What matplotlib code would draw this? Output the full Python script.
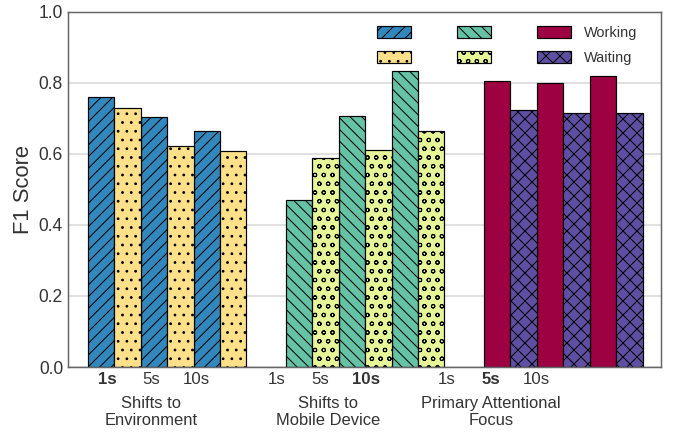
import matplotlib
matplotlib.use('Agg')
import matplotlib.pyplot as plt
from matplotlib.patches import Patch

# chart values
windows = ['1s', '5s', '10s']
groups = ['Shifts to\nEnvironment', 'Shifts to\nMobile Device', 'Primary Attentional\nFocus']
best_window = ['1s', '10s', '5s']  # drawn in bold

env_a = [0.761, 0.704, 0.665]
env_b = [0.730, 0.623, 0.608]
mob_a = [0.471, 0.707, 0.835]
mob_b = [0.589, 0.611, 0.664]
working = [0.806, 0.801, 0.819]
waiting = [0.724, 0.715, 0.715]

series = [(env_a, env_b), (mob_a, mob_b), (working, waiting)]
colors = [('#3288bd', '#fee08b'), ('#66c2a5', '#e6f598'), ('#9e0142', '#5e4fa2')]
hatches = [('//////', '....'), ('\\\\\\\\\\\\', 'oooo'), ('', 'xxxxx')]
legend_labels = ['', '', '', '', 'Working', 'Waiting']

W, H, DPI = 673, 437, 210


def px(v):
    # pixel size -> points at this dpi
    return v * 72 / DPI


plt.rcParams['font.family'] = ['Liberation Sans', 'DejaVu Sans']
plt.rcParams['hatch.linewidth'] = px(1.0)
TEXT = '#333333'

fig = plt.figure(figsize=(W / DPI, H / DPI), dpi=DPI)
ax = fig.add_axes([68 / W, 1 - 367 / H, (661 - 68) / W, (367 - 12) / H])

group_gap = 7.5
for g, (a, b) in enumerate(series):
    base = g * group_gap
    xa = [base + 2 * i + 0.5 for i in range(len(windows))]
    xb = [base + 2 * i + 1.5 for i in range(len(windows))]
    ax.bar(xa, a, width=1, color=colors[g][0], edgecolor='black', lw=px(1.2), hatch=hatches[g][0])
    ax.bar(xb, b, width=1, color=colors[g][1], edgecolor='black', lw=px(1.2), hatch=hatches[g][1])

ax.set_xlim(-0.758, 21.70)
ax.set_ylim(0, 1)
ax.set_yticks([0, 0.2, 0.4, 0.6, 0.8, 1.0])
ax.set_yticklabels(['%.1f' % v for v in [0, 0.2, 0.4, 0.6, 0.8, 1.0]])
ax.yaxis.grid(True, color='#e0e0e0', lw=px(2))
ax.set_axisbelow(True)
for s in ax.spines.values():
    s.set_color('#666666')
    s.set_linewidth(px(1.5))

# x tick labels sit a bit left of the bars, as in the original
label_centers = [2.4, 8.8, 15.25]
offsets = [-1.65, 0, 1.72]
title_centers = [2.4, 9.1, 15.25]
ticks, tick_labels = [], []
for c in label_centers:
    for o, w in zip(offsets, windows):
        ticks.append(c + o)
        tick_labels.append(w)
ax.set_xticks(ticks)
ax.set_xticklabels(tick_labels)
for k, t in enumerate(ax.get_xticklabels()):
    if tick_labels[k] == best_window[k // 3]:
        t.set_fontweight('bold')

ax.tick_params(axis='both', length=0, labelcolor=TEXT)
ax.tick_params(axis='x', pad=px(5), labelsize=px(16.8))
ax.tick_params(axis='y', pad=px(5), labelsize=px(17.5))

for c, name in zip(title_centers, groups):
    ax.annotate(name, xy=(c, 0), xycoords=('data', 'axes fraction'),
                xytext=(0, -px(29)), textcoords='offset points',
                ha='center', va='top', fontsize=px(16.5), color=TEXT, linespacing=1.18)

ax.set_ylabel('F1 Score', fontsize=px(22), color=TEXT)
ax.yaxis.set_label_coords(-0.058, 0.5)

handles = []
for g in range(3):
    for k in range(2):
        handles.append(Patch(facecolor=colors[g][k], edgecolor='black',
                             hatch=hatches[g][k], lw=px(1.2)))
ax.legend(handles, legend_labels, ncol=3, loc='upper left',
          bbox_to_anchor=(377 / W, 1 - 26 / H), bbox_transform=fig.transFigure,
          frameon=False, borderpad=0, borderaxespad=0,
          fontsize=px(14.5), labelcolor=TEXT,
          handlelength=2.34, handleheight=0.83, handletextpad=0.9,
          columnspacing=2.28, labelspacing=0.75)

fig.savefig('out.png', dpi=DPI)
